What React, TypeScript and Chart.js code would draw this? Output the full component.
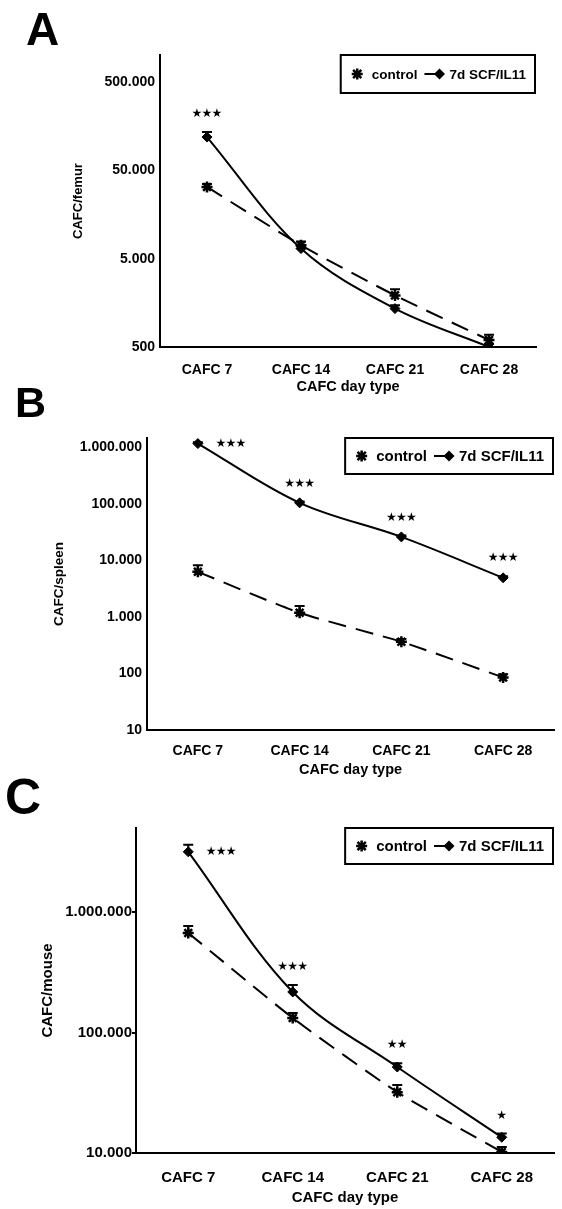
import React, { useEffect, useRef } from 'react';
import { Chart, registerables } from 'chart.js';

Chart.register(...registerables);

const FONT = '"Liberation Sans", Arial, Helvetica, sans-serif';

// Shared categories and series names
const categories = ['CAFC 7', 'CAFC 14', 'CAFC 21', 'CAFC 28'];
const seriesNames = ['control', '7d SCF/IL11'];
const xAxisTitle = 'CAFC day type';

// A: CAFC per femur
const femurControl = [32400, 7100, 1920, 600];
const femurControlSem = [2500, 700, 330, 90];
const femurScf = [119000, 6500, 1360, 500];
const femurScfSem = [17000, 400, 120, 40];
const femurSignificance = ['***', '', '', ''];
const femurStarPlacement = ['above', 'above', 'above', 'above'];
const femurTicks = [500, 5000, 50000, 500000];

// B: CAFC per spleen
const spleenControl = [6250, 1180, 363, 85];
const spleenControlSem = [1900, 370, 45, 12];
const spleenScf = [1156000, 103500, 25900, 4900];
const spleenScfSem = [60000, 6000, 1500, 300];
const spleenSignificance = ['***', '***', '***', '***'];
const spleenStarPlacement = ['right', 'above', 'above', 'above'];
const spleenTicks = [10, 100, 1000, 10000, 100000, 1000000];

// C: CAFC per mouse
const mouseControl = [670000, 132000, 32000, 10200];
const mouseControlSem = [96000, 13000, 4600, 1000];
const mouseScf = [3160000, 217000, 51700, 13500];
const mouseScfSem = [450000, 31000, 4000, 1000];
const mouseSignificance = ['***', '***', '**', '*'];
const mouseStarPlacement = ['right', 'above', 'above', 'above'];
const mouseTicks = [10000, 100000, 1000000];

type Panel = {
  letter: string;
  letterLeft: number;
  letterTop: number;
  letterSize: number;
  top: number;
  height: number;
  padding: { top: number; right: number; bottom: number; left: number };
  yAxisWidth: number;
  xAxisHeight: number;
  yTitle: string;
  yTitleSize: number;
  yMin: number;
  yMax: number;
  yTicks: number[];
  yTickSize: number;
  yTickLen: number;
  yTickPad: number;
  xTickSize: number;
  xTickPad: number;
  xTitleSize: number;
  legendSize: number;
  legendHeight: number;
  control: number[];
  controlSem: number[];
  scf: number[];
  scfSem: number[];
  sig: string[];
  sigPlace: string[];
};

const panels: Panel[] = [
  {
    letter: 'A', letterLeft: 26, letterTop: 6, letterSize: 46,
    top: 0, height: 396,
    padding: { top: 55, right: 26, bottom: 0, left: 71 },
    yAxisWidth: 89, xAxisHeight: 49,
    yTitle: 'CAFC/femur', yTitleSize: 13,
    yMin: 500, yMax: 1010000, yTicks: femurTicks,
    yTickSize: 14, yTickLen: 0, yTickPad: 5,
    xTickSize: 14, xTickPad: 7, xTitleSize: 14.5,
    legendSize: 13.5, legendHeight: 38,
    control: femurControl, controlSem: femurControlSem,
    scf: femurScf, scfSem: femurScfSem,
    sig: femurSignificance, sigPlace: femurStarPlacement,
  },
  {
    letter: 'B', letterLeft: 15, letterTop: 381, letterSize: 43,
    top: 385, height: 396,
    padding: { top: 53, right: 3, bottom: 2, left: 51 },
    yAxisWidth: 96, xAxisHeight: 49,
    yTitle: 'CAFC/spleen', yTitleSize: 13.5,
    yMin: 10, yMax: 1450000, yTicks: spleenTicks,
    yTickSize: 14, yTickLen: 0, yTickPad: 5,
    xTickSize: 14, xTickPad: 5, xTitleSize: 14.5,
    legendSize: 15, legendHeight: 36,
    control: spleenControl, controlSem: spleenControlSem,
    scf: spleenScf, scfSem: spleenScfSem,
    sig: spleenSignificance, sigPlace: spleenStarPlacement,
  },
  {
    letter: 'C', letterLeft: 5, letterTop: 772, letterSize: 50,
    top: 781, height: 428,
    padding: { top: 47, right: 1, bottom: 2, left: 39 },
    yAxisWidth: 97, xAxisHeight: 54,
    yTitle: 'CAFC/mouse', yTitleSize: 15,
    yMin: 10000, yMax: 4980000, yTicks: mouseTicks,
    yTickSize: 15, yTickLen: 4, yTickPad: 0,
    xTickSize: 15, xTickPad: 8, xTitleSize: 15,
    legendSize: 15, legendHeight: 36,
    control: mouseControl, controlSem: mouseControlSem,
    scf: mouseScf, scfSem: mouseScfSem,
    sig: mouseSignificance, sigPlace: mouseStarPlacement,
  },
];

// 1000000 -> "1.000.000"
const formatDots = (v: number) =>
  String(Math.round(v)).replace(/\B(?=(\d{3})+(?!\d))/g, '.');

function drawAsterisk(ctx: CanvasRenderingContext2D, x: number, y: number, r: number) {
  ctx.beginPath();
  ctx.moveTo(x - r, y);
  ctx.lineTo(x + r, y);
  ctx.moveTo(x, y - r);
  ctx.lineTo(x, y + r);
  const d = r * 0.75;
  ctx.moveTo(x - d, y - d);
  ctx.lineTo(x + d, y + d);
  ctx.moveTo(x - d, y + d);
  ctx.lineTo(x + d, y - d);
  ctx.stroke();
}

function drawDiamond(ctx: CanvasRenderingContext2D, x: number, y: number, r: number) {
  ctx.beginPath();
  ctx.moveTo(x, y - r);
  ctx.lineTo(x + r, y);
  ctx.lineTo(x, y + r);
  ctx.lineTo(x - r, y);
  ctx.closePath();
  ctx.fill();
}

function PanelChart({ p }: { p: Panel }) {
  const ref = useRef<HTMLCanvasElement | null>(null);

  useEffect(() => {
    const canvas = ref.current;
    if (!canvas) return;

    // upper SEM whiskers with a cap
    const errorBars = {
      id: 'errorBars',
      afterDatasetsDraw(chart: any) {
        const { ctx } = chart;
        const y = chart.scales.y;
        ctx.save();
        ctx.strokeStyle = '#000';
        ctx.lineWidth = 2;
        chart.data.datasets.forEach((ds: any, di: number) => {
          const meta = chart.getDatasetMeta(di);
          meta.data.forEach((el: any, i: number) => {
            const top = y.getPixelForValue(ds.data[i] + ds.errorPlus[i]);
            ctx.beginPath();
            ctx.moveTo(el.x, el.y);
            ctx.lineTo(el.x, top);
            ctx.moveTo(el.x - 5, top);
            ctx.lineTo(el.x + 5, top);
            ctx.stroke();
          });
        });
        ctx.restore();
      },
    };

    // significance stars next to the treated series
    const significance = {
      id: 'significance',
      afterDatasetsDraw(chart: any) {
        const { ctx } = chart;
        const y = chart.scales.y;
        const ds = chart.data.datasets[1];
        const meta = chart.getDatasetMeta(1);
        ctx.save();
        ctx.fillStyle = '#000';
        ctx.font = `12px "DejaVu Sans", sans-serif`;
        ctx.textAlign = 'center';
        ctx.textBaseline = 'middle';
        p.sig.forEach((label, i) => {
          if (!label) return;
          const el = meta.data[i];
          let cx = el.x;
          let cy = el.y;
          if (p.sigPlace[i] === 'right') {
            cx = el.x + 33;
          } else {
            cy = y.getPixelForValue(ds.data[i] + ds.errorPlus[i]) - 18;
          }
          const n = label.length;
          for (let k = 0; k < n; k++) {
            ctx.fillText('\u2605', cx + (k - (n - 1) / 2) * 10, cy);
          }
        });
        ctx.restore();
      },
    };

    // boxed legend in the upper right corner of the plot
    const boxLegend = {
      id: 'boxLegend',
      afterDraw(chart: any) {
        const { ctx, chartArea } = chart;
        ctx.save();
        ctx.font = `bold ${p.legendSize}px ${FONT}`;
        const w0 = ctx.measureText(seriesNames[0]).width;
        const w1 = ctx.measureText(seriesNames[1]).width;
        const padL = 8, m0 = 17, g0 = 6, gap = 7, m1 = 22, g1 = 3, padR = 9;
        const width = padL + m0 + g0 + w0 + gap + m1 + g1 + w1 + padR;
        const right = chartArea.right - 1;
        const left = right - width;
        const top = chartArea.top;
        const h = p.legendHeight;
        const cy = top + h / 2;
        ctx.strokeStyle = '#000';
        ctx.fillStyle = '#fff';
        ctx.lineWidth = 2;
        ctx.fillRect(left, top, width, h);
        ctx.strokeRect(left, top, width, h);
        ctx.fillStyle = '#000';
        ctx.lineWidth = 2.5;
        let x = left + padL;
        drawAsterisk(ctx, x + m0 / 2, cy, 5.5);
        x += m0 + g0;
        ctx.textBaseline = 'middle';
        ctx.textAlign = 'left';
        ctx.fillText(seriesNames[0], x, cy + 1);
        x += w0 + gap;
        ctx.lineWidth = 2;
        ctx.beginPath();
        ctx.moveTo(x, cy);
        ctx.lineTo(x + 12, cy);
        ctx.stroke();
        drawDiamond(ctx, x + 15, cy, 5.5);
        x += m1 + g1;
        ctx.fillText(seriesNames[1], x, cy + 1);
        ctx.restore();
      },
    };

    const tickFont = (size: number) => ({ family: FONT, weight: 'bold' as const, size });

    const chart = new Chart(canvas, {
      type: 'line',
      data: {
        labels: categories,
        datasets: [
          {
            label: seriesNames[0],
            data: p.control,
            errorPlus: p.controlSem,
            borderColor: '#000',
            backgroundColor: '#000',
            borderWidth: 2,
            borderDash: [18, 10],
            tension: 0.2,
            pointStyle: 'star',
            pointRadius: 5.5,
            pointBorderWidth: 2.5,
            pointBorderColor: '#000',
            pointBackgroundColor: '#000',
          } as any,
          {
            label: seriesNames[1],
            data: p.scf,
            errorPlus: p.scfSem,
            borderColor: '#000',
            backgroundColor: '#000',
            borderWidth: 2,
            tension: 0.35,
            pointStyle: 'rectRot',
            pointRadius: 5,
            pointBorderWidth: 1,
            pointBorderColor: '#000',
            pointBackgroundColor: '#000',
          } as any,
        ],
      },
      options: {
        responsive: false,
        animation: false,
        devicePixelRatio: 1,
        layout: { padding: p.padding },
        plugins: {
          legend: { display: false },
          tooltip: { enabled: false },
        },
        scales: {
          x: {
            type: 'category',
            offset: true,
            grid: { display: false },
            border: { display: true, color: '#000', width: 2 },
            ticks: {
              color: '#000',
              font: tickFont(p.xTickSize),
              padding: p.xTickPad,
              maxRotation: 0,
              autoSkip: false,
            },
            title: {
              display: true,
              text: xAxisTitle,
              color: '#000',
              font: tickFont(p.xTitleSize),
              padding: 0,
            },
            afterFit: (s: any) => {
              s.height = p.xAxisHeight;
            },
          },
          y: {
            type: 'logarithmic',
            min: p.yMin,
            max: p.yMax,
            grid: {
              display: true,
              drawOnChartArea: false,
              drawTicks: p.yTickLen > 0,
              tickLength: p.yTickLen,
              color: '#000',
              lineWidth: 2,
            },
            border: { display: true, color: '#000', width: 2 },
            afterBuildTicks: (s: any) => {
              s.ticks = p.yTicks.map((v) => ({ value: v }));
            },
            ticks: {
              color: '#000',
              font: tickFont(p.yTickSize),
              padding: p.yTickPad,
              callback: (v: any) => formatDots(Number(v)),
            },
            title: {
              display: true,
              text: p.yTitle,
              color: '#000',
              font: tickFont(p.yTitleSize),
              padding: 0,
            },
            afterFit: (s: any) => {
              s.width = p.yAxisWidth;
            },
          },
        },
      } as any,
      plugins: [errorBars, significance, boxLegend],
    });

    return () => chart.destroy();
  }, [p]);

  return (
    <canvas
      ref={ref}
      width={562}
      height={p.height}
      style={{ position: 'absolute', left: 0, top: p.top, width: 562, height: p.height }}
    />
  );
}

export default function App() {
  return (
    <div
      style={{
        position: 'absolute',
        left: 0,
        top: 0,
        width: 562,
        height: 1209,
        background: '#fff',
        overflow: 'hidden',
      }}
    >
      {panels.map((p) => (
        <React.Fragment key={p.letter}>
          <PanelChart p={p} />
          <div
            style={{
              position: 'absolute',
              left: p.letterLeft,
              top: p.letterTop,
              fontFamily: FONT,
              fontWeight: 'bold',
              fontSize: p.letterSize,
              lineHeight: 1,
              color: '#000',
            }}
          >
            {p.letter}
          </div>
        </React.Fragment>
      ))}
    </div>
  );
}
